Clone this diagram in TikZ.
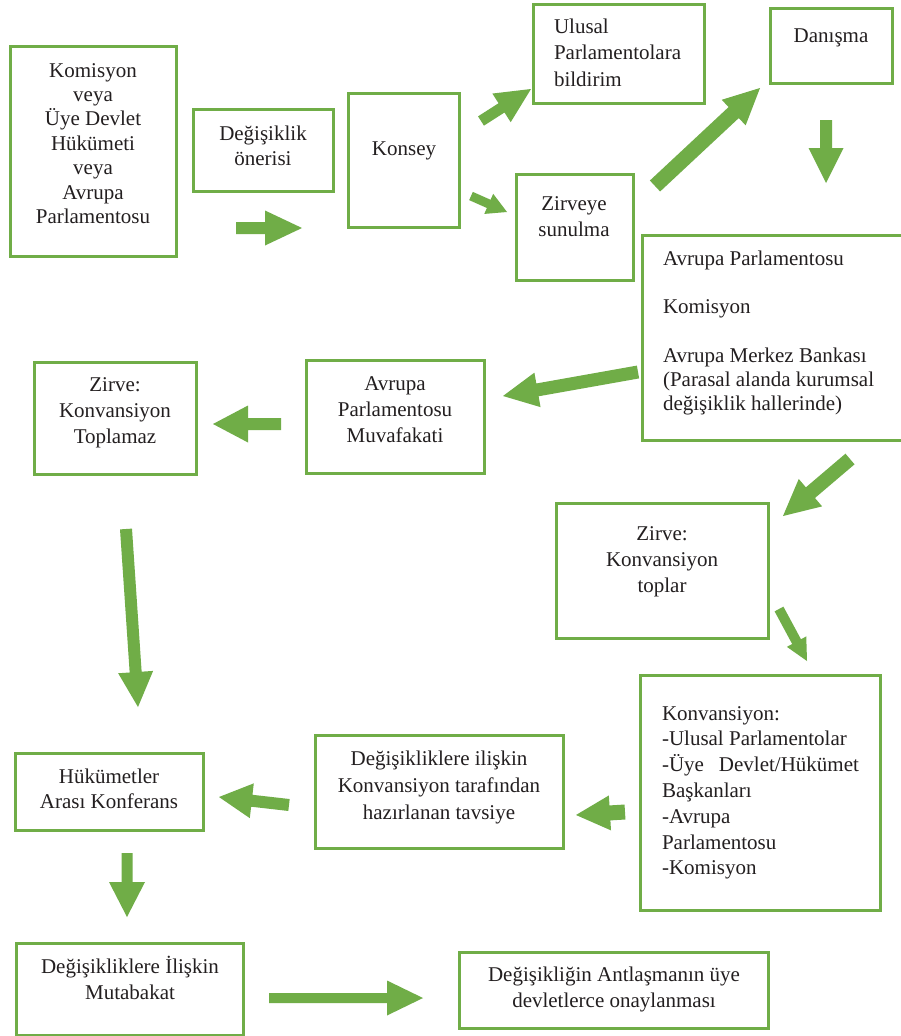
\documentclass[tikz,border=0pt]{standalone}
\usepackage{fontspec}
\setmainfont{Liberation Serif}
\usetikzlibrary{calc}
\definecolor{grn}{HTML}{70AD47}
\definecolor{ink}{HTML}{231F20}
\tikzset{
  box/.style={draw=grn, line width=3pt, inner sep=0pt, outer sep=0pt, rectangle},
  arr/.style={fill=grn},
  txt/.style={inner sep=0pt, outer sep=0pt, text=ink}
}
\newcommand\bx[5]{\node[box,anchor=north west,minimum width={#4-#2},minimum height={#5-#3}] (#1) at (#2,#3) {};}
\newcommand\tl[3]{{\fontsize{21}{#1}\selectfont\begin{tabular}[t]{@{}#2@{}}#3\end{tabular}}}
\newcommand\barrow[5]{%
  \coordinate (bh) at ($(#2)!#5!(#1)$);
  \fill[arr] ($(#1)!#3!90:(#2)$) -- ($(bh)!#3!90:(#2)$) -- ($(bh)!#4!90:(#2)$) -- (#2)
    -- ($(bh)!#4!-90:(#2)$) -- ($(bh)!#3!-90:(#2)$) -- ($(#1)!#3!-90:(#2)$) -- cycle;}
\begin{document}
\begin{tikzpicture}[x=1pt,y=-1pt]
\useasboundingbox (0,0) rectangle (901,1036);
\fill[white] (0,0) rectangle (901,1036);
% boxes
\bx{kom}{10}{46}{176}{256}
\bx{deg}{193}{109}{333}{191}
\bx{kon}{348}{93}{459}{227}
\bx{ulu}{533}{4}{704}{103}
\bx{dan}{770}{8}{892}{83}
\bx{zir}{516}{174}{633}{280}
\bx{big}{642}{235}{906}{440}
\bx{muv}{306}{360}{484}{473}
\bx{tpz}{34}{362}{196}{474}
\bx{top}{556}{503}{768}{638}
\bx{knv}{640}{675}{880}{910}
\bx{tav}{315}{735}{563}{848}
\bx{huk}{15}{753}{203}{830}
\bx{mut}{16}{943}{243}{1035}
\bx{ona}{459}{952}{768}{1028}
% texts
\node[txt,anchor=base] (tkom) at (93,77) {\tl{24.4}{c}{Komisyon\\veya\\Üye Devlet\\Hükümeti\\veya\\Avrupa\\Parlamentosu}};
\node[txt,anchor=base] (tdeg) at (263,140) {\tl{25}{c}{Değişiklik\\önerisi}};
\node[txt,anchor=base] (tkon) at (404,155) {\tl{25}{c}{Konsey}};
\node[txt,anchor=base west] (tulu) at (554,33) {\tl{26.7}{l}{Ulusal\\Parlamentolara\\bildirim}};
\node[txt,anchor=base] (tdan) at (831,42) {\tl{25}{c}{Danışma}};
\node[txt,anchor=base] (tzir) at (574,210) {\tl{26}{c}{Zirveye\\sunulma}};
\node[txt,anchor=base west] (tbig) at (663,265) {\tl{24.3}{l}{Avrupa Parlamentosu\\ \\Komisyon\\ \\Avrupa Merkez Bankası\\(Parasal alanda kurumsal\\değişiklik hallerinde)}};
\node[txt,anchor=base] (tmuv) at (395,390) {\tl{26}{c}{Avrupa\\Parlamentosu\\Muvafakati}};
\node[txt,anchor=base] (ttpz) at (115,391) {\tl{26}{c}{Zirve:\\Konvansiyon\\Toplamaz}};
\node[txt,anchor=base] (ttop) at (662,540) {\tl{26}{c}{Zirve:\\Konvansiyon\\toplar}};
\node[txt,anchor=base west] (tknv) at (662,720) {\tl{25.8}{l}{Konvansiyon:\\-Ulusal Parlamentolar\\-Üye\hspace{15pt}Devlet/Hükümet\\Başkanları\\-Avrupa\\Parlamentosu\\-Komisyon}};
\node[txt,anchor=base] (ttav) at (439,765) {\tl{27}{c}{Değişikliklere ilişkin\\Konvansiyon tarafından\\hazırlanan tavsiye}};
\node[txt,anchor=base] (thuk) at (109,783) {\tl{25.5}{c}{Hükümetler\\Arası Konferans}};
\node[txt,anchor=base] (tmut) at (130,973) {\tl{26}{c}{Değişikliklere İlişkin\\Mutabakat}};
\node[txt,anchor=base] (tona) at (614,981) {\tl{26}{c}{Değişikliğin Antlaşmanın üye\\devletlerce onaylanması}};
% arrows
\coordinate (a1s) at (236,228);  \coordinate (a1e) at (302,228);
\coordinate (a2s) at (481,121);  \coordinate (a2e) at (531,89);
\coordinate (a3s) at (471,196);  \coordinate (a3e) at (507,212);
\coordinate (a4s) at (655,186);  \coordinate (a4e) at (760,88);
\coordinate (a5s) at (826,120);  \coordinate (a5e) at (826,183);
\coordinate (a6s) at (638,372);  \coordinate (a6e) at (503,396);
\coordinate (a7s) at (281,424);  \coordinate (a7e) at (213,424);
\coordinate (a8s) at (850,459);  \coordinate (a8e) at (783,516);
\coordinate (a9s) at (126,529);  \coordinate (a9e) at (138,707);
\coordinate (a10s) at (779,609); \coordinate (a10e) at (807,661);
\coordinate (a11s) at (625,812); \coordinate (a11e) at (576,815);
\coordinate (a12s) at (289,805); \coordinate (a12e) at (219,797);
\coordinate (a13s) at (127,853); \coordinate (a13e) at (127,917);
\coordinate (a14s) at (269,998); \coordinate (a14e) at (423,998);
\barrow{a1s}{a1e}{6pt}{17.5pt}{37pt}
\barrow{a2s}{a2e}{5.5pt}{17pt}{35pt}
\barrow{a3s}{a3e}{4.5pt}{11pt}{20pt}
\barrow{a4s}{a4e}{7.5pt}{17.5pt}{36pt}
\barrow{a5s}{a5e}{6pt}{17.5pt}{35pt}
\barrow{a6s}{a6e}{6.5pt}{17.5pt}{35pt}
\barrow{a7s}{a7e}{6pt}{18.5pt}{35pt}
\barrow{a8s}{a8e}{7pt}{18pt}{36pt}
\barrow{a9s}{a9e}{6pt}{17.5pt}{35pt}
\barrow{a10s}{a10e}{5pt}{11pt}{22pt}
\barrow{a11s}{a11e}{7.5pt}{17.5pt}{34pt}
\barrow{a12s}{a12e}{6pt}{17.5pt}{33pt}
\barrow{a13s}{a13e}{5.5pt}{18pt}{35pt}
\barrow{a14s}{a14e}{5pt}{17.5pt}{36pt}
\end{tikzpicture}
\end{document}
